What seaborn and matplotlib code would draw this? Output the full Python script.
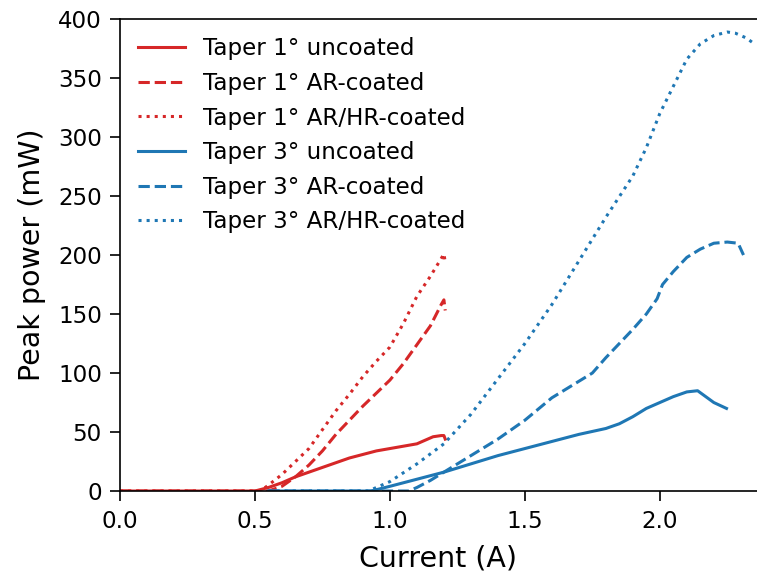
import matplotlib
matplotlib.use("Agg")
import matplotlib.pyplot as plt
import pandas as pd
import seaborn as sns

# Taper 1 deg
t1_unc_x = [0, 0.5, 0.55, 0.6, 0.65, 0.7, 0.75, 0.8, 0.85, 0.9, 0.95, 1.0, 1.05, 1.1, 1.13, 1.16, 1.19, 1.2, 1.205]
t1_unc_y = [0, 0, 3, 7, 12, 16, 20, 24, 28, 31, 34, 36, 38, 40, 43, 46, 47, 47, 44]
t1_ar_x = [0, 0.55, 0.6, 0.65, 0.7, 0.75, 0.8, 0.85, 0.9, 0.95, 1.0, 1.05, 1.1, 1.15, 1.19, 1.2, 1.205]
t1_ar_y = [0, 0, 4, 12, 22, 34, 48, 60, 72, 83, 94, 108, 124, 140, 158, 162, 153]
t1_arhr_x = [0, 0.52, 0.55, 0.6, 0.65, 0.7, 0.75, 0.8, 0.85, 0.9, 0.95, 1.0, 1.05, 1.1, 1.15, 1.19, 1.2, 1.205]
t1_arhr_y = [0, 0, 5, 14, 25, 36, 52, 68, 82, 97, 110, 122, 142, 165, 182, 197, 201, 194]

# Taper 3 deg
t3_unc_x = [0.55, 0.93, 1.0, 1.1, 1.2, 1.3, 1.4, 1.5, 1.6, 1.7, 1.8, 1.85, 1.9, 1.95, 2.0, 2.05, 2.1, 2.14, 2.17, 2.2, 2.247]
t3_unc_y = [0, 0, 4, 10, 16, 23, 30, 36, 42, 48, 53, 57, 63, 70, 75, 80, 84, 85, 80, 75, 70]
t3_ar_x = [0.55, 1.07, 1.1, 1.15, 1.2, 1.3, 1.4, 1.5, 1.6, 1.7, 1.75, 1.8, 1.9, 1.95, 1.99, 2.01, 2.05, 2.1, 2.15, 2.2, 2.25, 2.29, 2.31]
t3_ar_y = [0, 0, 3, 9, 16, 30, 44, 60, 79, 93, 100, 113, 137, 150, 163, 175, 186, 198, 205, 210, 211, 210, 200]
t3_arhr_x = [0.55, 0.92, 1.0, 1.1, 1.2, 1.3, 1.4, 1.5, 1.6, 1.7, 1.8, 1.9, 1.95, 2.0, 2.05, 2.1, 2.15, 2.2, 2.25, 2.28, 2.32, 2.35]
t3_arhr_y = [0, 0, 8, 23, 40, 65, 95, 125, 158, 195, 232, 267, 291, 320, 343, 366, 379, 386, 389, 388, 384, 379]

series = [
    ("Taper 1° uncoated", t1_unc_x, t1_unc_y, "#d62728", "-"),
    ("Taper 1° AR-coated", t1_ar_x, t1_ar_y, "#d62728", "--"),
    ("Taper 1° AR/HR-coated", t1_arhr_x, t1_arhr_y, "#d62728", ":"),
    ("Taper 3° uncoated", t3_unc_x, t3_unc_y, "#1f77b4", "-"),
    ("Taper 3° AR-coated", t3_ar_x, t3_ar_y, "#1f77b4", "--"),
    ("Taper 3° AR/HR-coated", t3_arhr_x, t3_arhr_y, "#1f77b4", ":"),
]

fig = plt.figure(figsize=(7.57, 5.77), dpi=100)
ax = fig.add_axes([0.1585, 0.149, 0.8415, 0.818])

for name, xs, ys, col, ls in series:
    df = pd.DataFrame({"x": xs, "y": ys})
    sns.lineplot(data=df, x="x", y="y", sort=False, color=col, linestyle=ls,
                 linewidth=2.2, label=name, ax=ax)

ax.set_xlim(0, 2.36)
ax.set_ylim(0, 400)
ax.set_xticks([0, 0.5, 1.0, 1.5, 2.0])
ax.set_yticks(range(0, 401, 50))
ax.tick_params(labelsize=16.6, length=7, width=1.2, pad=6)
ax.tick_params(axis="x", pad=7)
for s in ax.spines.values():
    s.set_linewidth(1.2)
ax.spines["right"].set_visible(False)
ax.set_xlabel("Current (A)", fontsize=20.5, labelpad=8)
ax.set_ylabel("Peak power (mW)", fontsize=20.5, labelpad=9)
ax.legend(loc="upper left", frameon=False, fontsize=16.6, labelspacing=0.5,
          borderaxespad=0.4)

fig.savefig("out.png", dpi=100)
